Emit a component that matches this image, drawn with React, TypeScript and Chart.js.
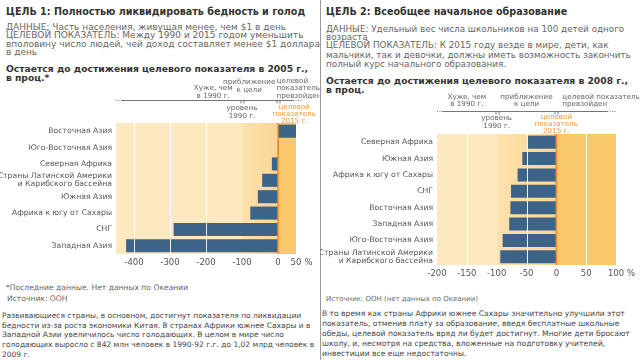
import React, { useEffect, useRef } from "react";
import { Chart, registerables } from "chart.js";
Chart.register(...registerables);

const FONT = "'DejaVu Sans', Verdana, sans-serif";

// ---------- Panel 1 data ----------
const goal1Title = "ЦЕЛЬ 1: Полностью ликвидировать бедность и голод";
const goal1Info = [
  "ДАННЫЕ: Часть населения, живущая менее, чем $1 в день",
  "ЦЕЛЕВОЙ ПОКАЗАТЕЛЬ: Между 1990 и 2015 годом уменьшить",
  "вполовину число людей, чей доход составляет менее $1 доллара",
  "в день",
];
const goal1Subtitle = ["Остается до достижения целевого показателя в 2005 г.,", "в проц.*"];
const goal1Regions = [
  "Восточная Азия",
  "Юго-Восточная Азия",
  "Северная Африка",
  ["Страны Латинской Америки", "и Карибского бассейна"],
  "Южная Азия",
  "Африка к югу от Сахары",
  "СНГ",
  "Западная Азия",
];
const goal1Values = [50, 2, -17, -44, -56, -77, -290, -422];
const goal1Ticks = [-400, -300, -200, -100, 0, 50];
const goal1Grid = [-400, -300, -200];
const goal1Notes = ["*Последние данные. Нет данных по Океании", "Источник: ООН"];
const goal1Text = [
  "Развивающиеся страны, в основном, достигнут показателя по ликвидации",
  "бедности из-за роста экономики Китая. В странах Африки южнее Сахары и в",
  "Западной Азии увеличилось число голодающих. В целом в мире число",
  "голодающих выросло с 842 млн человек в 1990-92 г.г. до 1,02 млрд человек в",
  "2009 г.",
];

// ---------- Panel 2 data ----------
const goal2Title = "ЦЕЛЬ 2: Всеобщее начальное образование";
const goal2Info = [
  "ДАННЫЕ: Удельный вес числа школьников на 100 детей одного",
  "возраста",
  "ЦЕЛЕВОЙ ПОКАЗАТЕЛЬ: К 2015 году везде в мире, дети, как",
  "мальчики, так и девочки, должны иметь возможность закончить",
  "полный курс начального образования.",
];
const goal2Subtitle = ["Остается до достижения целевого показателя в 2008 г.,", "в проц."];
const goal2Regions = [
  "Северная Африка",
  "Южная Азия",
  "Африка к югу от Сахары",
  "СНГ",
  "Восточная Азия",
  "Западная Азия",
  "Юго-Восточная Азия",
  ["Страны Латинской Америки", "и Карибского бассейна"],
];
const goal2Values = [-49, -57, -65, -76, -77, -79, -90, -94];
const goal2Ticks = [-200, -150, -100, -50, 0, 50, 100];
const goal2Grid = [-150, -50, 50];
const goal2Notes = ["Источник: ООН (нет данных по Океании)"];
const goal2Text = [
  "В то время как страны Африки южнее Сахары значительно улучшили этот",
  "показатель, отменив плату за образование, введя бесплатные школьные",
  "обеды, целевой показатель вряд ли будет достигнут. Многие дети бросают",
  "школу, и, несмотря на средства, вложенные на подготовку учителей,",
  "инвестиции все еще недостаточны.",
];

const scaleLabels = {
  worse: ["Хуже, чем", "в 1990 г."],
  closer: ["приближение", "к цели"],
  exceeded1: ["целевой", "показатель", "превзойден"],
  exceeded2: ["целевой показатель", "превзойден"],
  level: ["уровень", "1990 г."],
  target: ["целевой", "показатель", "2015 г."],
};

// ---------- styles ----------
const BAR = "#3e6389";
const LIGHT = "#fde9bf";
const MID_A = "#fde2ad";
const MID_B = "#fbd595";
const ORANGE = "#f8c86c";
const ZERO = "#ef8d22";
const ORANGE_TEXT = "#f39a35";
const GRAY_ANN = "#666";
const LABEL = "#555";

type Ann = { value: number; dx?: number; align: CanvasTextAlign; color?: string; lines: string[]; dy0: number; step: number };
type PanelCfg = {
  labels: any[];
  values: number[];
  ticks: number[];
  grid: number[];
  min: number;
  max: number;
  nearEdge: number;
  junctions: number[];
  bracketY: number;
  bracketExtL: number;
  bracketExtR: number;
  anns: Ann[];
};

function makePlugin(cfg: PanelCfg) {
  return {
    id: "panelDecor",
    beforeDatasetsDraw(chart: any) {
      const { ctx, chartArea: a } = chart;
      const x = chart.scales.x;
      const p = (v: number) => x.getPixelForValue(v);
      ctx.save();
      ctx.fillStyle = LIGHT;
      ctx.fillRect(a.left, a.top, p(cfg.nearEdge) - a.left, a.height);
      const g = ctx.createLinearGradient(p(cfg.nearEdge), 0, p(0), 0);
      g.addColorStop(0, MID_A);
      g.addColorStop(1, MID_B);
      ctx.fillStyle = g;
      ctx.fillRect(p(cfg.nearEdge), a.top, p(0) - p(cfg.nearEdge), a.height);
      ctx.fillStyle = ORANGE;
      ctx.fillRect(p(0), a.top, a.right - p(0), a.height);
      ctx.restore();
    },
    afterDatasetsDraw(chart: any) {
      const { ctx, chartArea: a } = chart;
      const x = chart.scales.x;
      const p = (v: number) => x.getPixelForValue(v);
      ctx.save();
      ctx.strokeStyle = "rgba(255,255,255,0.9)";
      ctx.lineWidth = 1;
      cfg.grid.forEach((v) => {
        const px = Math.round(p(v)) + 0.5;
        ctx.beginPath();
        ctx.moveTo(px, a.top);
        ctx.lineTo(px, a.bottom);
        ctx.stroke();
      });
      ctx.strokeStyle = ZERO;
      ctx.lineWidth = 1.5;
      const z = p(0);
      ctx.beginPath();
      ctx.moveTo(z, a.top);
      ctx.lineTo(z, a.bottom);
      ctx.stroke();
      ctx.restore();
    },
    afterDraw(chart: any) {
      const { ctx, chartArea: a } = chart;
      const x = chart.scales.x;
      const p = (v: number) => x.getPixelForValue(v);
      ctx.save();
      // percent sign after last tick
      ctx.font = `8.5px ${FONT}`;
      ctx.fillStyle = LABEL;
      ctx.textBaseline = "middle";
      ctx.textAlign = "left";
      const last = String(cfg.ticks[cfg.ticks.length - 1]);
      const w = ctx.measureText(last).width;
      ctx.fillText("%", p(cfg.ticks[cfg.ticks.length - 1]) + w / 2 + 3, a.bottom + 8.5);
      // bracket
      const by = Math.round(a.top + cfg.bracketY) + 0.5;
      ctx.strokeStyle = "#777";
      ctx.lineWidth = 1;
      const l0 = a.left;
      const r0 = a.right + cfg.bracketExtR;
      ctx.setLineDash([1, 1.5]);
      ctx.beginPath();
      ctx.moveTo(l0, by);
      ctx.lineTo(l0 + cfg.bracketExtL, by);
      ctx.moveTo(r0 - 9, by);
      ctx.lineTo(r0, by);
      ctx.stroke();
      ctx.setLineDash([]);
      ctx.beginPath();
      ctx.moveTo(l0 + cfg.bracketExtL, by);
      ctx.lineTo(r0 - 9, by);
      cfg.junctions.forEach((v) => {
        const jx = Math.round(p(v)) + 0.5;
        ctx.moveTo(jx - 1.5, by);
        ctx.lineTo(jx - 1.5, by + 3);
        ctx.moveTo(jx + 1.5, by);
        ctx.lineTo(jx + 1.5, by + 3);
      });
      ctx.stroke();
      // annotation texts
      ctx.font = `7.2px ${FONT}`;
      cfg.anns.forEach((an) => {
        ctx.fillStyle = an.color || GRAY_ANN;
        ctx.textAlign = an.align;
        const ax = p(an.value) + (an.dx || 0);
        an.lines.forEach((t, i) => {
          ctx.fillText(t, ax, a.top + cfg.bracketY + an.dy0 + i * an.step);
        });
      });
      ctx.restore();
    },
  };
}

function BarPanel(props: { cfg: PanelCfg; left: number; top: number; width: number; height: number; padTop: number; axisW: number; padRight: number }) {
  const ref = useRef<HTMLCanvasElement>(null);
  const { cfg, left, top, width, height, padTop, axisW, padRight } = props;
  useEffect(() => {
    const chart = new Chart(ref.current as HTMLCanvasElement, {
      type: "bar",
      data: {
        labels: cfg.labels,
        datasets: [
          {
            data: cfg.values,
            backgroundColor: BAR,
            barPercentage: 0.8,
            categoryPercentage: 1,
          },
        ],
      },
      options: {
        indexAxis: "y",
        animation: false,
        responsive: false,
        maintainAspectRatio: false,
        layout: { padding: { top: padTop, right: padRight, left: 0, bottom: 0 } },
        plugins: { legend: { display: false }, tooltip: { enabled: false } },
        scales: {
          x: {
            type: "linear",
            min: cfg.min,
            max: cfg.max,
            afterBuildTicks: (s: any) => {
              s.ticks = cfg.ticks.map((v) => ({ value: v }));
            },
            afterFit: (s: any) => {
              s.height = 16;
            },
            grid: { display: false, drawTicks: false },
            border: { display: false },
            ticks: { color: LABEL, font: { size: 8.5, family: FONT }, padding: 4, autoSkip: false, maxRotation: 0 },
          },
          y: {
            afterFit: (s: any) => {
              s.width = axisW;
            },
            grid: { display: false, drawTicks: false },
            border: { display: false },
            ticks: { color: LABEL, font: { size: 7.7, family: FONT, lineHeight: 1.08 }, padding: 4, autoSkip: false },
          },
        },
      } as any,
      plugins: [makePlugin(cfg) as any],
    });
    return () => chart.destroy();
  }, []);
  return <canvas ref={ref} width={width} height={height} style={{ position: "absolute", left, top, width, height }} />;
}

function Line(props: { x: number; y: number; size: number; bold?: boolean; color: string; text: string }) {
  const lh = Math.round(props.size * 1.25);
  return (
    <div
      style={{
        position: "absolute",
        left: props.x,
        top: props.y - lh / 2,
        fontSize: props.size,
        lineHeight: `${lh}px`,
        height: lh,
        whiteSpace: "nowrap",
        fontWeight: props.bold ? 700 : 400,
        color: props.color,
        fontFamily: FONT,
      }}
    >
      {props.text}
    </div>
  );
}

const panel1: PanelCfg = {
  labels: goal1Regions,
  values: goal1Values,
  ticks: goal1Ticks,
  grid: goal1Grid,
  min: -450,
  max: 50,
  nearEdge: -100,
  junctions: [-100, 0],
  bracketY: -23,
  bracketExtL: 6,
  bracketExtR: 6,
  anns: [
    { value: -180, align: "center", lines: scaleLabels.worse, dy0: -12, step: 8 },
    { value: -80, align: "center", lines: scaleLabels.closer, dy0: -18, step: 8 },
    { value: 0, dx: -1.5, align: "left", lines: scaleLabels.exceeded1, dy0: -19, step: 7.5 },
    { value: -100, align: "center", lines: scaleLabels.level, dy0: 8, step: 8 },
    { value: 45, align: "center", color: ORANGE_TEXT, lines: scaleLabels.target, dy0: 7, step: 7 },
  ],
};

const panel2: PanelCfg = {
  labels: goal2Regions,
  values: goal2Values,
  ticks: goal2Ticks,
  grid: goal2Grid,
  min: -200,
  max: 100,
  nearEdge: -100,
  junctions: [-100, 0],
  bracketY: -23,
  bracketExtL: 6,
  bracketExtR: 0,
  anns: [
    { value: -150, align: "center", lines: scaleLabels.worse, dy0: -14, step: 6.8 },
    { value: -50, align: "center", lines: scaleLabels.closer, dy0: -14, step: 6.8 },
    { value: 0, dx: 6, align: "left", lines: scaleLabels.exceeded2, dy0: -14, step: 6.8 },
    { value: -100, align: "center", lines: scaleLabels.level, dy0: 7, step: 8 },
    { value: 0, align: "center", color: ORANGE_TEXT, lines: scaleLabels.target, dy0: 6, step: 7 },
  ],
};

export default function App() {
  const info1Y = [27, 35.7, 44.2, 52.5];
  const info2Y = [29.3, 37.5, 45.3, 55, 64.3];
  const text1Y = [315, 325, 334.5, 344.3, 354];
  const text2Y = [314.3, 324, 334, 343.5, 353.7];
  return (
    <div style={{ position: "fixed", left: 0, top: 0, width: 640, height: 360, overflow: "hidden", background: "#fff" }}>
      <div style={{ position: "absolute", left: 320, top: 0, width: 1, height: 360, background: "#9a9a9a" }} />
      {/* Panel 1 */}
      <Line x={6} y={12} size={9.6} bold color="#333" text={goal1Title} />
      {goal1Info.map((t, i) => (
        <Line key={"i1" + i} x={6} y={info1Y[i]} size={9} color="#666" text={t} />
      ))}
      {goal1Subtitle.map((t, i) => (
        <Line key={"s1" + i} x={6} y={69 + i * 9} size={9.2} bold color="#333" text={t} />
      ))}
      <BarPanel cfg={panel1} left={0} top={76} width={320} height={194} padTop={47} axisW={116} padRight={24} />
      <Line x={6} y={288} size={7.6} color="#666" text={goal1Notes[0]} />
      <Line x={7} y={299} size={7.6} color="#666" text={goal1Notes[1]} />
      {goal1Text.map((t, i) => (
        <Line key={"t1" + i} x={2} y={text1Y[i]} size={7.5} color="#444" text={t} />
      ))}
      {/* Panel 2 */}
      <Line x={326} y={12} size={9.6} bold color="#333" text={goal2Title} />
      {goal2Info.map((t, i) => (
        <Line key={"i2" + i} x={326} y={info2Y[i]} size={8.8} color="#666" text={t} />
      ))}
      {goal2Subtitle.map((t, i) => (
        <Line key={"s2" + i} x={326} y={81 + i * 9} size={9.2} bold color="#333" text={t} />
      ))}
      <BarPanel cfg={panel2} left={320} top={90} width={320} height={191} padTop={44} axisW={117} padRight={24} />
      <Line x={326} y={299} size={7} color="#666" text={goal2Notes[0]} />
      {goal2Text.map((t, i) => (
        <Line key={"t2" + i} x={322} y={text2Y[i]} size={7.6} color="#444" text={t} />
      ))}
    </div>
  );
}
